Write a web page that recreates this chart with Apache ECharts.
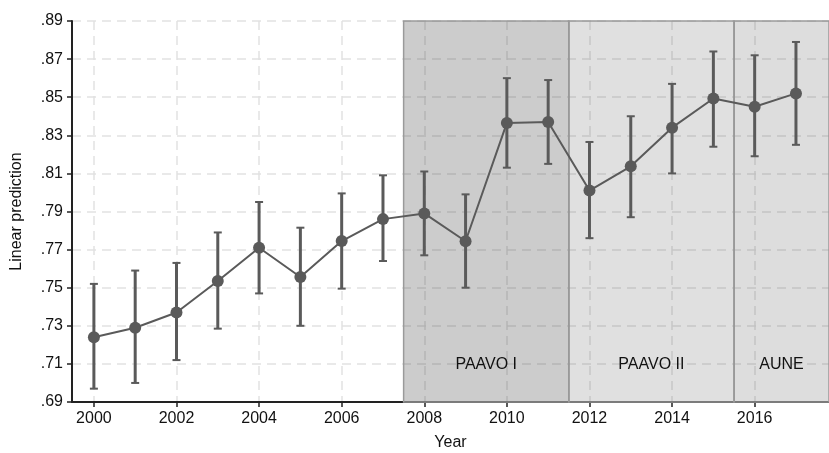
<!DOCTYPE html>
<html>
<head>
<meta charset="utf-8">
<script src="https://cdn.jsdelivr.net/npm/echarts@6/dist/echarts.min.js"></script>
<style>
  html, body { margin: 0; padding: 0; background: #fff; }
  #main { width: 829px; height: 453px; }
</style>
</head>
<body>
<div id="main"></div>
<script>
// data
const years = [2000, 2001, 2002, 2003, 2004, 2005, 2006, 2007, 2008, 2009, 2010, 2011, 2012, 2013, 2014, 2015, 2016, 2017]
const means = [0.724, 0.729, 0.737, 0.7535, 0.771, 0.7556, 0.7745, 0.786, 0.789, 0.7744, 0.8365, 0.837, 0.801, 0.8137, 0.834, 0.8493, 0.845, 0.852]
const lower = [0.697, 0.700, 0.712, 0.7285, 0.747, 0.730, 0.7495, 0.764, 0.767, 0.750, 0.813, 0.815, 0.776, 0.787, 0.810, 0.824, 0.819, 0.825]
const upper = [0.752, 0.759, 0.763, 0.779, 0.795, 0.7815, 0.7995, 0.809, 0.811, 0.799, 0.860, 0.859, 0.8265, 0.840, 0.857, 0.874, 0.872, 0.879]

const periodNames = ['PAAVO I', 'PAAVO II', 'AUNE']
const periodStart = [2007.5, 2011.5, 2015.5]
const periodEnd = [2011.5, 2015.5, 2017.8]
const periodFill = ['rgba(0,0,0,0.2)', 'rgba(0,0,0,0.12)', 'rgba(0,0,0,0.135)']

const xTicks = [2000, 2002, 2004, 2006, 2008, 2010, 2012, 2014, 2016]
const yMin = 0.69
const yMax = 0.89

const font = 'Liberation Sans, Arial, Helvetica, sans-serif'
const dark = '#5a5a5a'

const chart = echarts.init(document.getElementById('main'))

const option = {
  animation: false,
  textStyle: { fontFamily: font },
  grid: { left: 72, right: 0, top: 21, bottom: 51, containLabel: false, outerBoundsMode: 'none' },
  xAxis: {
    type: 'value',
    min: 1999.47,
    max: 2017.8,
    name: 'Year',
    nameLocation: 'middle',
    nameGap: 33,
    nameTextStyle: { color: '#111', fontSize: 16, fontFamily: font },
    axisLine: { lineStyle: { color: '#222', width: 2 } },
    axisTick: { show: true, customValues: xTicks, length: 5, lineStyle: { color: '#222', width: 1.5 } },
    axisLabel: {
      customValues: xTicks,
      color: '#111',
      fontSize: 16,
      margin: 9,
      formatter: (v) => String(v),
    },
    splitLine: { show: true, lineStyle: { color: '#e2e2e2', type: [9, 6], width: 1.5 } },
  },
  yAxis: {
    type: 'value',
    min: yMin,
    max: yMax,
    interval: 0.02,
    name: 'Linear prediction',
    nameLocation: 'middle',
    nameGap: 47,
    nameTextStyle: { color: '#111', fontSize: 16, fontFamily: font },
    axisLine: { show: true, lineStyle: { color: '#222', width: 2 } },
    axisTick: { show: true, length: 5, lineStyle: { color: '#222', width: 1.5 } },
    axisLabel: {
      color: '#111',
      fontSize: 16,
      margin: 9,
      formatter: (v) => v.toFixed(2).replace(/^0/, ''),
    },
    splitLine: { show: true, lineStyle: { color: '#e2e2e2', type: [9, 6], width: 1.5 } },
  },
  series: [
    {
      // shaded policy periods
      type: 'line',
      data: [],
      z: 1,
      silent: true,
      markArea: {
        silent: true,
        data: periodNames.map((name, i) => [
          {
            name: name,
            xAxis: periodStart[i],
            yAxis: yMax,
            itemStyle: { color: periodFill[i], borderColor: '#9a9a9a', borderWidth: 1.5 },
          },
          { xAxis: periodEnd[i], yAxis: yMin },
        ]),
        label: {
          show: true,
          position: 'insideBottom',
          distance: 30,
          color: '#111',
          fontSize: 16,
          fontFamily: font,
        },
      },
    },
    {
      // confidence intervals
      type: 'custom',
      z: 3,
      data: years.map((y, i) => [y, lower[i], upper[i]]),
      renderItem: (params, api) => {
        const lo = api.coord([api.value(0), api.value(1)])
        const hi = api.coord([api.value(0), api.value(2)])
        const cap = 4
        return {
          type: 'group',
          children: [
            { type: 'line', shape: { x1: lo[0], y1: lo[1], x2: hi[0], y2: hi[1] }, style: { stroke: dark, lineWidth: 3 } },
            { type: 'line', shape: { x1: lo[0] - cap, y1: lo[1], x2: lo[0] + cap, y2: lo[1] }, style: { stroke: dark, lineWidth: 2 } },
            { type: 'line', shape: { x1: hi[0] - cap, y1: hi[1], x2: hi[0] + cap, y2: hi[1] }, style: { stroke: dark, lineWidth: 2 } },
          ],
        }
      },
    },
    {
      // point estimates
      type: 'line',
      z: 4,
      data: years.map((y, i) => [y, means[i]]),
      symbol: 'circle',
      symbolSize: 12,
      itemStyle: { color: dark },
      lineStyle: { color: dark, width: 2 },
    },
  ],
}

chart.setOption(option)
</script>
</body>
</html>
